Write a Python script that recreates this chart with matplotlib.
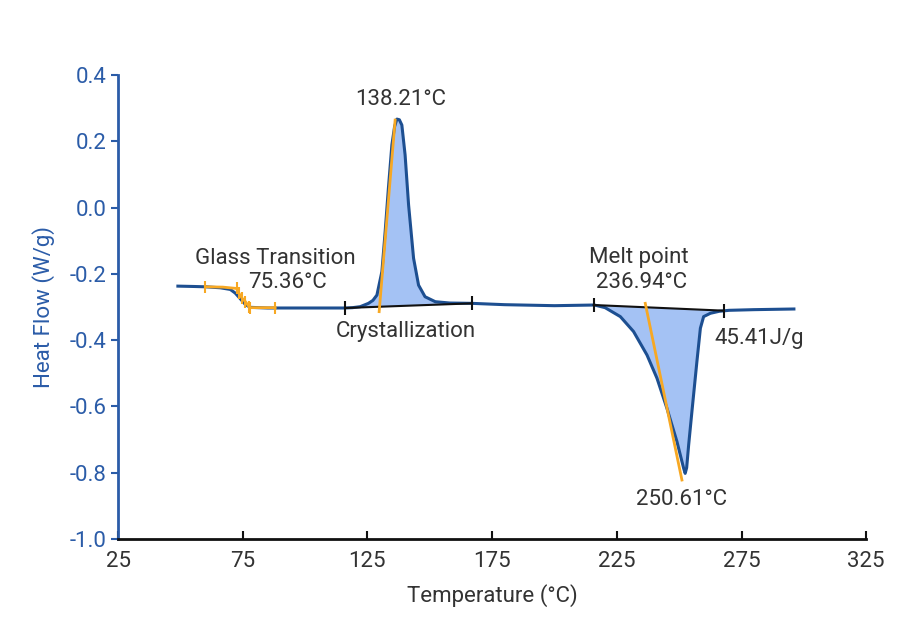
import matplotlib.pyplot as plt
import numpy as np

plt.rcParams['font.family'] = ['Roboto', 'DejaVu Sans']
plt.rcParams['axes.unicode_minus'] = False

# DSC curve
temp = [49, 55, 60, 66, 70, 72, 74, 76, 78, 85, 100, 116, 119, 122.1, 125.4, 127.2,
        128.8, 130.8, 132.1, 133.4, 134.8, 135.9, 136.8, 137.8, 138.8, 140.1, 141.5,
        143.5, 145.5, 148.1, 152.2, 158, 167, 180, 200, 216, 220.3, 226.4, 231.7,
        237.1, 241.1, 245.1, 249.1, 251.8, 252.4, 253.0, 253.8, 255.1, 257.1, 258.5,
        259.8, 262.5, 266, 270, 280, 296]
heat = [-0.237, -0.238, -0.239, -0.242, -0.247, -0.258, -0.275, -0.292, -0.301,
        -0.303, -0.303, -0.303, -0.302, -0.299, -0.289, -0.280, -0.264, -0.193,
        -0.073, 0.058, 0.189, 0.245, 0.267, 0.265, 0.249, 0.159, 0.008, -0.153,
        -0.234, -0.269, -0.284, -0.288, -0.289, -0.293, -0.296, -0.294, -0.302,
        -0.329, -0.374, -0.445, -0.515, -0.606, -0.706, -0.787, -0.802, -0.785,
        -0.716, -0.616, -0.465, -0.364, -0.329, -0.319, -0.313, -0.310, -0.308, -0.306]

# integration baselines (start, end)
cryst_base_t = [116, 167]
cryst_base_h = [-0.303, -0.289]
melt_base_t = [215.7, 267.8]
melt_base_h = [-0.294, -0.311]

# onset tangent lines
cryst_tan_t = [129.7, 136.1]
cryst_tan_h = [-0.314, 0.264]
melt_tan_t = [236.4, 251.1]
melt_tan_h = [-0.289, -0.822]
glass_t = [60, 67, 72.5, 73.5, 74.8, 76.1, 77.5, 78, 88]
glass_h = [-0.239, -0.240, -0.244, -0.259, -0.274, -0.284, -0.299, -0.302, -0.302]

xticks = [25, 75, 125, 175, 225, 275, 325]
yticks = [0.4, 0.2, 0.0, -0.2, -0.4, -0.6, -0.8, -1.0]

blue = '#1d4f91'
axblue = '#2b5ca8'
fillc = '#a4c2f4'
orange = '#f7a823'
txt = '#333333'

fig = plt.figure(figsize=(9.08, 6.33), dpi=100)
ax = fig.add_axes([0.13, 0.1485, 0.824, 0.733])

t = np.array(temp)
h = np.array(heat)

def fill_peak(bt, bh):
    m = (t > bt[0]) & (t < bt[1])
    xs = np.concatenate([[bt[0]], t[m], [bt[1]]])
    ys = np.concatenate([[bh[0]], h[m], [bh[1]]])
    ax.fill(xs, ys, color=fillc, lw=0, zorder=1)
    ax.plot(bt, bh, color='#111111', lw=1.5, marker='|', ms=10, mew=1.5, zorder=3)

fill_peak(cryst_base_t, cryst_base_h)
fill_peak(melt_base_t, melt_base_h)

ax.plot(temp, heat, color=blue, lw=2.2, zorder=2, solid_joinstyle='round')
ax.plot(cryst_tan_t, cryst_tan_h, color=orange, lw=2, zorder=4)
ax.plot(melt_tan_t, melt_tan_h, color=orange, lw=2, zorder=4)
ax.plot(glass_t, glass_h, color=orange, lw=2, marker='|', ms=9, mew=1.5, zorder=4,
        markevery=[0, 2, 3, 4, 5, 6, 7, 8])

ax.set_xlim(25, 325)
ax.set_ylim(-1.0, 0.4)
ax.set_xticks(xticks)
ax.set_yticks(yticks)
ax.set_yticklabels(['%.1f' % v for v in yticks])
ax.spines['top'].set_visible(False)
ax.spines['right'].set_visible(False)
ax.spines['left'].set_color(axblue)
ax.spines['left'].set_linewidth(2)
ax.spines['bottom'].set_color('#111111')
ax.spines['bottom'].set_linewidth(2)
ax.tick_params(axis='x', direction='in', length=6, width=1.5, colors='#111111',
               labelsize=16, labelcolor=txt, pad=9)
ax.tick_params(axis='y', direction='out', length=5, width=1.5, colors=axblue,
               labelsize=16, labelcolor=axblue)
ax.set_xlabel('Temperature (°C)', fontsize=16, color=txt, labelpad=8)
ax.set_ylabel('Heat Flow (W/g)', fontsize=16, color=axblue, labelpad=10)

fs = 16
ax.text(88, -0.155, 'Glass Transition', fontsize=fs, color=txt, ha='center', va='center')
ax.text(93, -0.225, '75.36°C', fontsize=fs, color=txt, ha='center', va='center')
ax.text(138.5, 0.325, '138.21°C', fontsize=fs, color=txt, ha='center', va='center')
ax.text(140.5, -0.375, 'Crystallization', fontsize=fs, color=txt, ha='center', va='center')
ax.text(234, -0.15, 'Melt point', fontsize=fs, color=txt, ha='center', va='center')
ax.text(235, -0.225, '236.94°C', fontsize=fs, color=txt, ha='center', va='center')
ax.text(282, -0.395, '45.41J/g', fontsize=fs, color=txt, ha='center', va='center')
ax.text(251, -0.88, '250.61°C', fontsize=fs, color=txt, ha='center', va='center')

fig.savefig('out.png', dpi=100)
